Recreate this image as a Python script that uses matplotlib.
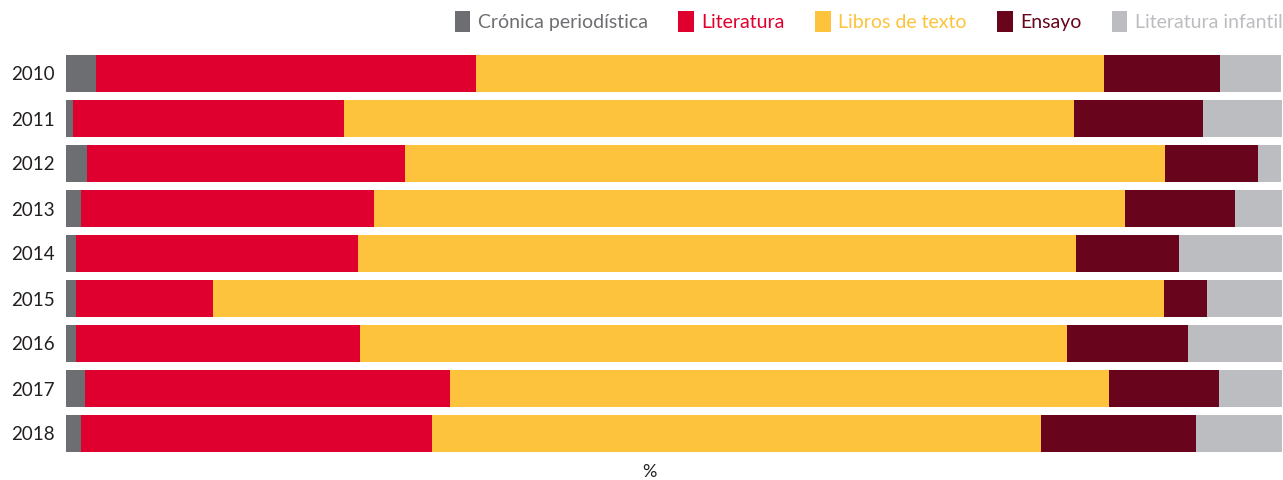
import matplotlib.pyplot as plt
import numpy as np

# Data
years = ['2010', '2011', '2012', '2013', '2014', '2015', '2016', '2017', '2018']
labels = ['Crónica periodística', 'Literatura', 'Libros de texto', 'Ensayo', 'Literatura infantil']
cronica = [2.5, 0.6, 1.7, 1.2, 0.8, 0.8, 0.8, 1.6, 1.2]
literatura = [31.2, 22.3, 26.2, 24.1, 23.2, 11.3, 23.4, 30.0, 28.9]
libros = [51.7, 60.0, 62.5, 61.8, 59.1, 78.2, 58.1, 54.2, 50.1]
ensayo = [9.5, 10.6, 7.6, 9.0, 8.4, 3.5, 10.0, 9.0, 12.7]
infantil = [5.0, 6.6, 1.9, 3.9, 8.5, 6.2, 7.8, 5.2, 7.2]
colors = ['#6d6e71', '#e0002f', '#fdc33c', '#68041b', '#bcbdc0']

plt.rcParams['font.family'] = ['Lato', 'DejaVu Sans']

fig = plt.figure(figsize=(12.83, 4.8), dpi=100)
ax = fig.add_axes([66 / 1283, 1 - 456 / 480, 1216 / 1283, 405 / 480])

y = np.arange(len(years))
left = np.zeros(len(years))
for vals, lab, col in zip([cronica, literatura, libros, ensayo, infantil], labels, colors):
    ax.barh(y, vals, left=left, height=0.82, color=col, label=lab)
    left += np.array(vals)

ax.set_xlim(0, 100)
ax.set_ylim(len(years) - 0.5, -0.5)
ax.set_yticks(y)
ax.set_yticklabels(years, fontsize=13.5, color='#231f20')
ax.set_xticks([])
ax.tick_params(axis='y', length=0, pad=8)
for s in ax.spines.values():
    s.set_visible(False)

fig.text(649 / 1283, 1 - 472 / 480, '%', ha='center', va='center', fontsize=13, color='#231f20')

leg = fig.legend(loc='upper right', bbox_to_anchor=(1283 / 1283, 1 - 11 / 480), ncol=5, frameon=False,
                 fontsize=14, handlelength=0.8, handleheight=1.3, handletextpad=0.4,
                 columnspacing=1.55, borderaxespad=0, borderpad=0)
for txt, col in zip(leg.get_texts(), colors):
    txt.set_color(col)

plt.savefig('out.png', dpi=100)
